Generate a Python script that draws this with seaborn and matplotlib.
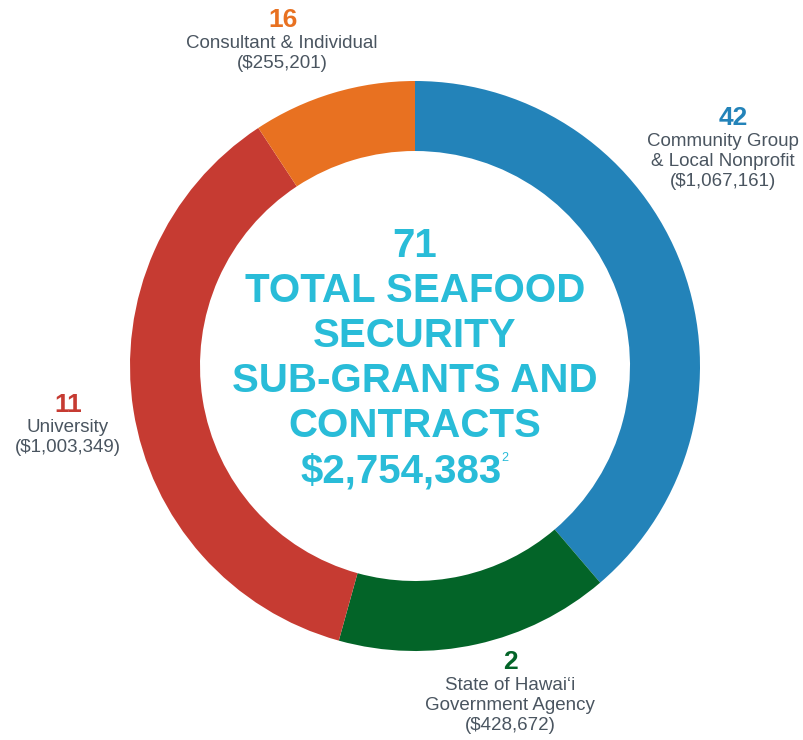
import matplotlib
matplotlib.use('Agg')
import matplotlib.pyplot as plt
import seaborn as sns

# Datos del gráfico (en orden horario desde arriba)
categorias = [['Community Group', '& Local Nonprofit'],
              ['State of Hawaiʻi', 'Government Agency'],
              ['University'],
              ['Consultant & Individual']]
conteos = [42, 2, 11, 16]
montos = [1067161, 428672, 1003349, 255201]
colores = ['#2383B9', '#036428', '#C63B32', '#E87121']
total_conteo = 71
total_monto = '$2,754,383'

sns.set_theme(style='white')
plt.rcParams['font.family'] = ['Liberation Sans', 'DejaVu Sans']

fig = plt.figure(figsize=(8.04, 7.40), dpi=100)
ax = fig.add_axes([0, 0, 1, 1])

H = 740
cx, cy = 415, H - 366
ax.pie(montos, colors=colores, startangle=90, counterclock=False,
       center=(cx, cy), radius=285, wedgeprops=dict(width=70, linewidth=0))
ax.set_xlim(0, 804)
ax.set_ylim(0, 740)
ax.set_aspect('equal')
ax.axis('off')

# Etiquetas externas: número (x, y) y centro del texto x
pos_num = [(733, 118), (510, 662), (68, 405), (283, 20)]
pos_txt = [723, 510, 68, 282]
gris = '#4A5560'
for (x, y), xt, cat, n, m, c in zip(pos_num, pos_txt, categorias, conteos, montos, colores):
    ax.text(x, H - y, str(n), color=c, fontsize=19, fontweight='bold',
            ha='center', va='center')
    lineas = cat + ['(${:,})'.format(m)]
    for i, l in enumerate(lineas):
        ax.text(xt, H - (y + 23 + 20 * i), l, color=gris, fontsize=13.5,
                ha='center', va='center')

# Texto central
azul = '#29BCD8'
lineas = [str(total_conteo), 'TOTAL SEAFOOD', 'SECURITY', 'SUB-GRANTS AND', 'CONTRACTS']
for i, l in enumerate(lineas):
    ax.text(415, H - (246 + 45 * i), l, color=azul, fontsize=29, fontweight='bold',
            ha='center', va='center')
ax.text(401, H - 472, total_monto, color=azul, fontsize=29, fontweight='bold',
        ha='center', va='center')
ax.text(501, H - 458, '2', color=azul, fontsize=9, ha='left', va='center')

fig.savefig('out.png', dpi=100)
